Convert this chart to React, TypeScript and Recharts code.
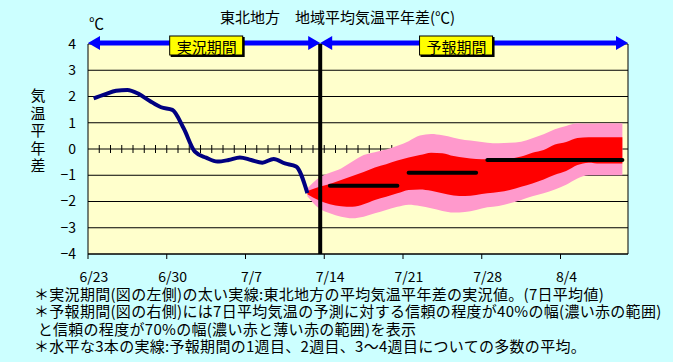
import {
  Area,
  CartesianGrid,
  ComposedChart,
  Line,
  ReferenceDot,
  ReferenceLine,
  Scatter,
  XAxis,
  YAxis,
} from "recharts";

const FONT = '"Noto Sans CJK JP", "Noto Sans", sans-serif';

const DATE_TICKS = [0, 7, 14, 21, 28, 35, 42];
const DATE_LABELS = ["6/23", "6/30", "7/7", "7/14", "7/21", "7/28", "8/4"];
const DAY_COUNT = 48;
const Y_TICKS = [-4, -3, -2, -1, 0, 1, 2, 3, 4];

// observed 7-day mean anomaly, one value per day from 6/23
const OBSERVED = [
  1.93, 2.08, 2.22, 2.25, 2.1, 1.83, 1.59, 1.49, 0.79, -0.1, -0.33, -0.48,
  -0.42, -0.32, -0.42, -0.52, -0.38, -0.55, -0.67, -1.68,
];

// forecast bands start on the last observed day
const FORECAST_START = 19;
const OUTER_HI = [
  -1.5, -1.1, -0.9, -0.74, -0.48, -0.23, -0.12, -0.02, 0.12, 0.3, 0.51, 0.57,
  0.52, 0.43, 0.34, 0.3, 0.24, 0.22, 0.24, 0.28, 0.41, 0.56, 0.75, 0.88, 0.98,
  0.97, 0.98, 0.98, 0.98,
];
const INNER_HI = [
  -1.6, -1.45, -1.33, -1.18, -1.03, -0.88, -0.7, -0.58, -0.44, -0.32, -0.23,
  -0.14, -0.16, -0.27, -0.33, -0.38, -0.39, -0.39, -0.37, -0.29, -0.14, -0.04,
  0.17, 0.27, 0.42, 0.45, 0.45, 0.45, 0.45,
];
const INNER_LO = [
  -1.72, -1.95, -2.1, -2.18, -2.2, -2.1, -1.94, -1.82, -1.69, -1.56, -1.54,
  -1.59, -1.69, -1.77, -1.79, -1.75, -1.69, -1.64, -1.56, -1.44, -1.31, -1.16,
  -0.98, -0.84, -0.61, -0.52, -0.55, -0.55, -0.55,
];
const OUTER_LO = [
  -1.8, -2.25, -2.45, -2.58, -2.64, -2.58, -2.45, -2.32, -2.2, -2.12, -2.17,
  -2.26, -2.36, -2.42, -2.4, -2.32, -2.22, -2.17, -2.07, -1.94, -1.8, -1.69,
  -1.54, -1.36, -1.12, -1.0, -1.0, -1.0, -1.0,
];

// ensemble means: week 1, week 2, weeks 3-4 (first day, last day, value)
const WEEK_FROM = [21, 28, 35];
const WEEK_TO = [27, 34, 47];
const WEEK_MEAN = [-1.4, -0.9, -0.42];

const BOUNDARY_DAY = 20.64;
const PERIOD_LABELS = ["実況期間", "予報期間"];
const PERIOD_FROM = [0, BOUNDARY_DAY];
const PERIOD_TO = [BOUNDARY_DAY, DAY_COUNT];
const PERIOD_LABEL_AT = [10.55, 32.76];

const NOTES = [
  "＊実況期間(図の左側)の太い実線:東北地方の平均気温平年差の実況値。(7日平均値)",
  "＊予報期間(図の右側)には7日平均気温の予測に対する信頼の程度が40%の幅(濃い赤の範囲)",
  " と信頼の程度が70%の幅(濃い赤と薄い赤の範囲)を表示",
  "＊水平な3本の実線:予報期間の1週目、2週目、3～4週目についての多数の平均。",
];

const obsData = OBSERVED.map((v, i) => ({ x: i + 0.5, obs: v }));
const bandData = OUTER_HI.map((hi, k) => ({
  x: FORECAST_START + k + 0.5,
  outer: [OUTER_LO[k], hi],
  inner: [INNER_LO[k], INNER_HI[k]],
}));
const zeroTicks = Array.from({ length: DAY_COUNT - 1 }, (_, i) => ({
  x: i + 1,
  y: 0,
}));

function ZeroTick(p: any) {
  return (
    <line x1={p.cx} x2={p.cx} y1={p.cy - 4} y2={p.cy + 4} stroke="#000" />
  );
}

function ArrowBar(p: any) {
  const { x1, x2 } = p;
  const y = p.y1 - 1;
  const len = 12;
  const h = 7;
  return (
    <g>
      <line x1={x1 + len - 1} x2={x2 - len + 1} y1={y} y2={y} stroke="#0000FF" strokeWidth={5} />
      <polygon points={`${x1},${y} ${x1 + len},${y - h} ${x1 + len},${y + h}`} fill="#0000FF" />
      <polygon points={`${x2},${y} ${x2 - len},${y - h} ${x2 - len},${y + h}`} fill="#0000FF" />
    </g>
  );
}

function PeriodBox({ cx, cy, text }: any) {
  return (
    <g>
      <rect x={cx - 36} y={cy - 7} width={74} height={20} fill="#000" />
      <rect x={cx - 37} y={cy - 8} width={73} height={19} fill="#FFFF00" stroke="#000" strokeWidth={1} />
      <text x={cx} y={cy + 2} textAnchor="middle" dominantBaseline="central" fontSize={15} fill="#000" fontFamily={FONT}>
        {text}
      </text>
    </g>
  );
}

const fmtY = (v: number) => (v < 0 ? `−${Math.abs(v)}` : `${v}`);

export default function App() {
  return (
    <div
      style={{
        position: "absolute",
        left: 0,
        top: 0,
        width: 673,
        height: 362,
        background: "#CCFFFF",
        overflow: "hidden",
        fontFamily: FONT,
        color: "#000",
      }}
    >
      <div style={{ position: "absolute", left: 220, top: 8, fontSize: 15, lineHeight: "18px", whiteSpace: "pre" }}>
        東北地方　地域平均気温平年差(℃)
      </div>
      <div style={{ position: "absolute", left: 89, top: 14, fontSize: 15, lineHeight: "18px" }}>℃</div>
      <div style={{ position: "absolute", left: 30, top: 86, width: 16, fontSize: 15, lineHeight: "17.5px", textAlign: "center" }}>
        {"気温平年差".split("").map((c) => (
          <div key={c}>{c}</div>
        ))}
      </div>

      <div style={{ position: "absolute", left: 0, top: 0 }}>
        <ComposedChart width={673} height={298} margin={{ top: 44, right: 45, bottom: 0, left: 48 }}>
          <CartesianGrid horizontal vertical={false} stroke="#000" fill="#FFFFCC" />
          <XAxis
            dataKey="x"
            type="number"
            domain={[0, DAY_COUNT]}
            ticks={DATE_TICKS}
            tickFormatter={(v) => DATE_LABELS[DATE_TICKS.indexOf(v)] ?? ""}
            height={44}
            axisLine={{ stroke: "#000" }}
            tickLine={{ stroke: "#000" }}
            tickSize={5}
            tickMargin={13}
            tick={{ fontSize: 14, fill: "#000", fontFamily: FONT, dx: 6 }}
            interval={0}
            allowDataOverflow
          />
          <YAxis
            type="number"
            domain={[-4, 4]}
            ticks={Y_TICKS}
            tickFormatter={fmtY}
            width={40}
            axisLine={{ stroke: "#000" }}
            tickLine={false}
            tickSize={0}
            tickMargin={12}
            tick={{ fontSize: 14, fill: "#000", fontFamily: FONT }}
            interval={0}
            allowDataOverflow
          />
          <Scatter data={zeroTicks} dataKey="y" shape={ZeroTick} isAnimationActive={false} zIndex={50} />
          <Area
            data={bandData}
            dataKey="outer"
            type="monotone"
            fill="#FF99CC"
            fillOpacity={1}
            stroke="none"
            isAnimationActive={false}
          />
          <Area
            data={bandData}
            dataKey="inner"
            type="monotone"
            fill="#FF0000"
            fillOpacity={1}
            stroke="none"
            isAnimationActive={false}
          />
          <Line
            data={obsData}
            dataKey="obs"
            type="monotone"
            stroke="#000080"
            strokeWidth={4}
            dot={false}
            isAnimationActive={false}
          />
          {WEEK_MEAN.map((v, i) => (
            <Line
              key={i}
              data={[
                { x: WEEK_FROM[i] + 0.5, wk: v },
                { x: WEEK_TO[i] + 0.5, wk: v },
              ]}
              dataKey="wk"
              type="linear"
              stroke="#000"
              strokeWidth={4}
              strokeLinecap="round"
              dot={false}
              isAnimationActive={false}
            />
          ))}
          <ReferenceLine x={DAY_COUNT} stroke="#000" />
          <ReferenceLine x={BOUNDARY_DAY} stroke="#000" strokeWidth={4} zIndex={450} />
          {PERIOD_LABELS.map((label, i) => (
            <ReferenceLine
              key={label}
              segment={[
                { x: PERIOD_FROM[i], y: 4 },
                { x: PERIOD_TO[i], y: 4 },
              ]}
              shape={ArrowBar}
              zIndex={700}
            />
          ))}
          {PERIOD_LABELS.map((label, i) => (
            <ReferenceDot
              key={label}
              x={PERIOD_LABEL_AT[i]}
              y={4}
              shape={(p: any) => <PeriodBox {...p} text={label} />}
              zIndex={800}
            />
          ))}
        </ComposedChart>
      </div>

      <div
        style={{
          position: "absolute",
          left: 34,
          top: 285,
          fontSize: 15,
          lineHeight: "17.4px",
          letterSpacing: "0.3px",
          whiteSpace: "pre",
        }}
      >
        {NOTES.map((n) => (
          <div key={n}>{n}</div>
        ))}
      </div>
    </div>
  );
}
